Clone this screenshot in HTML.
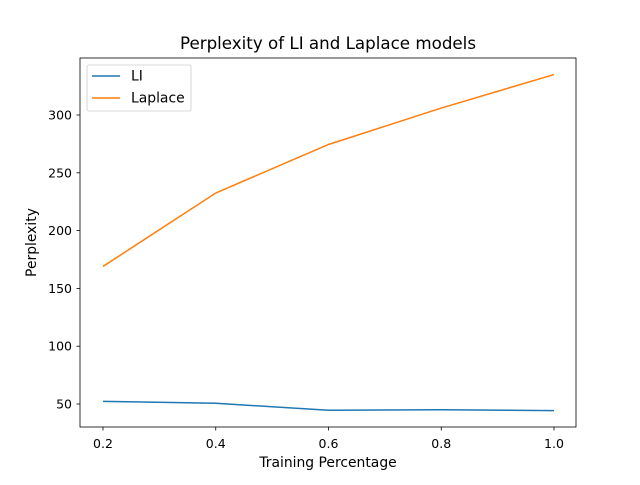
<!DOCTYPE html>
<html><head><meta charset="utf-8"><style>
body{margin:0;background:#fff;}
svg text{font-family:"DejaVu Sans","Liberation Sans",sans-serif;fill:#000;}
</style></head><body>
<svg id="chart" width="640" height="480" xmlns="http://www.w3.org/2000/svg">
<rect width="640" height="480" fill="#fff"/>
<text x="328" y="49" font-size="16.7" text-anchor="middle">Perplexity of LI and Laplace models</text>
<g id="plot"></g>
<rect x="80" y="58" width="496" height="369" fill="none" stroke="#000" stroke-width="0.8"/>
<text x="328" y="467" font-size="13.9" text-anchor="middle">Training Percentage</text>
<text transform="translate(36,242.5) rotate(-90)" font-size="13.9" text-anchor="middle">Perplexity</text>
<g>
<rect x="87" y="65" width="104" height="46" rx="2" fill="#fff" stroke="#ccc" stroke-width="0.8"/>
<line x1="92" y1="76" x2="120" y2="76" stroke="#1f77b4" stroke-width="1.5"/>
<text x="131" y="80.5" font-size="13.9">LI</text>
<line x1="92" y1="98" x2="120" y2="98" stroke="#ff7f0e" stroke-width="1.5"/>
<text x="131" y="102.5" font-size="13.9">Laplace</text>
</g>
</svg>
<script>
const xValues=[0.2,0.4,0.6,0.8,1.0];
const liValues=[52.3,50.6,44.6,45.0,44.3];
const laplaceValues=[169,232.5,274.5,306,335];
const xTicks=[0.2,0.4,0.6,0.8,1.0];
const xTickLabels=["0.2","0.4","0.6","0.8","1.0"];
const yTicks=[50,100,150,200,250,300];
const yTickLabels=["50","100","150","200","250","300"];
const ns="http://www.w3.org/2000/svg";
const g=document.getElementById('plot');
const X0=0.2,X1=1.0,PX0=103,PX1=554;
const Y0=50,Y1=300,PY0=404,PY1=115;
function sx(v){return PX0+(v-X0)/(X1-X0)*(PX1-PX0);}
function sy(v){return PY0+(v-Y0)/(Y1-Y0)*(PY1-PY0);}
function mk(t,a){const e=document.createElementNS(ns,t);for(const k in a)e.setAttribute(k,a[k]);g.appendChild(e);return e;}
xTicks.forEach((v,i)=>{
 const l=mk('line',{x1:sx(v),x2:sx(v),y1:427,y2:430.5,stroke:'#000','stroke-width':0.8});
 
 
 const t=mk('text',{x:sx(v),y:448,'font-size':12.5,'text-anchor':'middle'});t.textContent=xTickLabels[i];
 
 
});
yTicks.forEach((v,i)=>{
 const l=mk('line',{x1:76.5,x2:80,y1:sy(v),y2:sy(v),stroke:'#000','stroke-width':0.8});
 
 
 const t=mk('text',{x:72,y:sy(v)+4.5,'font-size':12.5,'text-anchor':'end'});t.textContent=yTickLabels[i];
 
 
});
function line(vals,color,name){
 const p=mk('polyline',{points:vals.map((v,i)=>sx(xValues[i])+','+sy(v)).join(' '),fill:'none',stroke:color,'stroke-width':1.5});
 
 
}
line(liValues,'#1f77b4','li-line');
line(laplaceValues,'#ff7f0e','laplace-line');
</script>
</body></html>
